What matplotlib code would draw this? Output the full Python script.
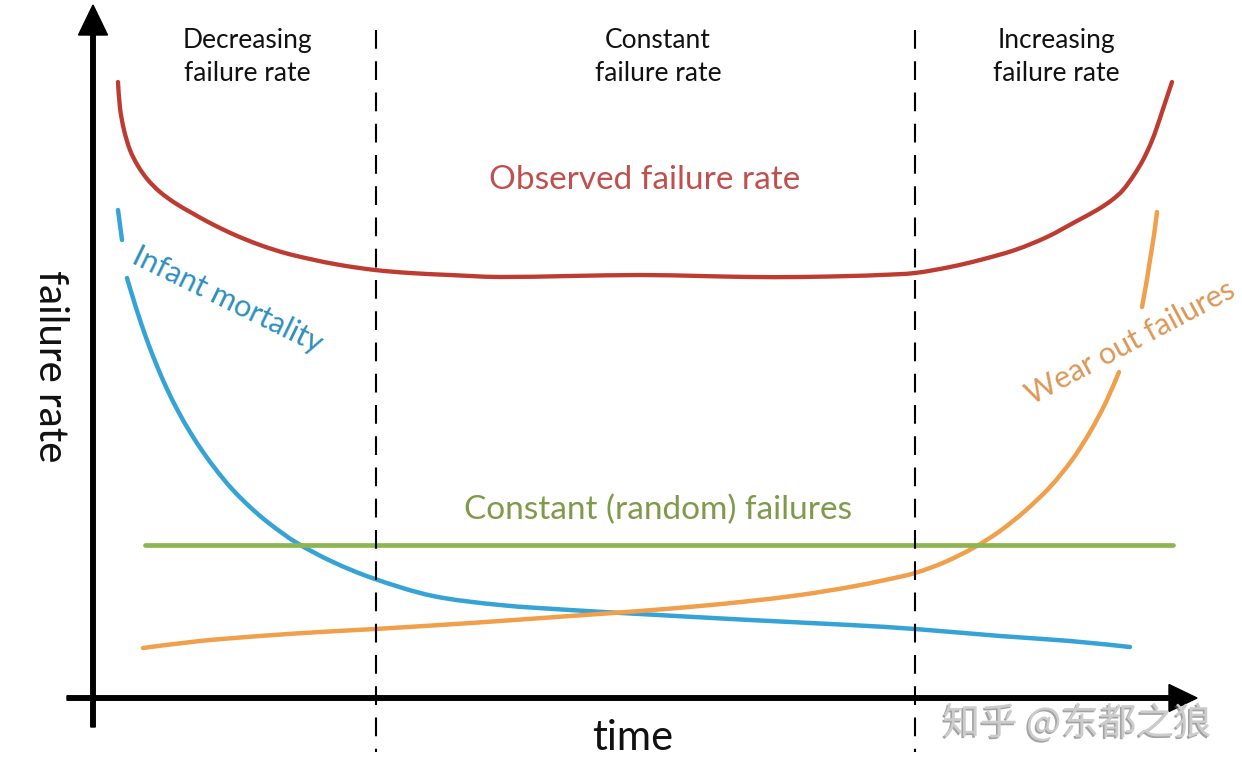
import numpy as np
import matplotlib
matplotlib.use("Agg")
import matplotlib.pyplot as plt
import matplotlib.patheffects as pe
from matplotlib.path import Path
from matplotlib.patches import PathPatch

plt.rcParams['font.family'] = ['Lato', 'DejaVu Sans']

# 数据 (从图上读出来的, 坐标单位 = 像素, y 向下)
red_t = [118, 120, 124, 130, 138, 148, 160, 175, 192, 212, 235, 260, 285, 310, 340, 375, 410, 450,
         500, 570, 640, 700, 750, 800, 850, 880, 915, 950, 980, 1015, 1047, 1075, 1097, 1112, 1123,
         1134, 1143, 1151, 1157, 1162, 1167, 1172]
red_r = [82, 108, 130, 150, 166, 180, 192, 203, 213, 224, 235, 245, 253, 259, 265, 270, 273, 275,
         277, 276, 275, 276, 277, 277, 276, 275, 273, 267, 260, 250, 237, 222, 210, 200, 190,
         175, 160, 143, 127, 112, 97, 82]

blue_top_t = [118, 120, 122]
blue_top_r = [210, 225, 240]
blue_t = [127, 133, 140, 148, 157, 167, 178, 190, 203, 217, 232, 250, 270, 297, 333, 375, 433, 500,
          570, 640, 750, 850, 915, 1000, 1070, 1130]
blue_r = [278, 298, 320, 343, 366, 389, 411, 432, 452, 471, 489, 507, 524, 543, 562, 579, 596, 605,
          610, 614, 620, 625, 629, 636, 641, 647]

orange_t = [143, 200, 260, 320, 375, 440, 500, 570, 640, 700, 750, 800, 850, 885, 915, 945, 975,
            1000, 1025, 1050, 1072, 1090, 1106, 1119]
orange_r = [648, 641, 636, 632, 629, 625, 621, 616, 611, 606, 601, 595, 587, 580, 573, 562, 547,
            531, 511, 487, 460, 432, 402, 372]
orange_top_t = [1142, 1146, 1150, 1154, 1157]
orange_top_r = [307, 285, 260, 235, 212]

green_t = [145, 1173]
green_r = [545, 545]

phase_bounds = [376, 915]
phase_labels = ["Decreasing\nfailure rate", "Constant\nfailure rate", "Increasing\nfailure rate"]
phase_x = [247, 658, 1056]


def smooth_path(xs, ys):
    # 通过各点的光滑曲线 (Catmull-Rom -> Bezier)
    pts = np.column_stack([xs, ys]).astype(float)
    verts = [pts[0]]
    codes = [Path.MOVETO]
    n = len(pts)
    for i in range(n - 1):
        p0 = pts[i - 1] if i > 0 else pts[i]
        p1 = pts[i]
        p2 = pts[i + 1]
        p3 = pts[i + 2] if i + 2 < n else pts[i + 1]
        verts += [p1 + (p2 - p0) / 6.0, p2 - (p3 - p1) / 6.0, p2]
        codes += [Path.CURVE4] * 3
    return Path(verts, codes)


def curve(ax, xs, ys, color, lw):
    ax.add_patch(PathPatch(smooth_path(xs, ys), facecolor='none', edgecolor=color, lw=lw,
                           capstyle='round', joinstyle='round'))


fig = plt.figure(figsize=(12.42, 7.74), dpi=100)
ax = fig.add_axes([0, 0, 1, 1])
ax.set_xlim(0, 1242)
ax.set_ylim(774, 0)
ax.axis('off')

curve(ax, red_t, red_r, '#bd3b30', 3.1)
curve(ax, blue_top_t, blue_top_r, '#35a3d6', 3.2)
curve(ax, blue_t, blue_r, '#35a3d6', 3.2)
curve(ax, orange_t, orange_r, '#f0a04b', 3.2)
curve(ax, orange_top_t, orange_top_r, '#f0a04b', 3.2)
ax.plot(green_t, green_r, color='#8db552', lw=3.4, solid_capstyle='round')

for xb in phase_bounds:
    ax.plot([xb, xb], [30, 752], color='black', lw=1.5, dashes=(9, 6))

# 坐标轴箭头
ax.arrow(93, 727, 0, -722, width=4.5, head_width=29, head_length=30,
         length_includes_head=True, color='black')
ax.arrow(67, 698, 1130, 0, width=4.5, head_width=27, head_length=28,
         length_includes_head=True, color='black')

for x, s in zip(phase_x, phase_labels):
    ax.text(x, 57, s, ha='center', va='center', fontsize=19, color='#111111', linespacing=1.38)

ax.text(645, 180, "Observed failure rate", ha='center', va='center', fontsize=24, color='#c0504d')
ax.text(658, 510, "Constant (random) failures", ha='center', va='center', fontsize=24,
        color='#7f9a4a')
ax.text(227, 300, "Infant mortality", ha='center', va='center', fontsize=22, color='#2f8fbf',
        rotation=-26, rotation_mode='anchor')
ax.text(1130, 342, "Wear out failures", ha='center', va='center', fontsize=22, color='#dc9858',
        rotation=28, rotation_mode='anchor')

ax.text(50, 366, "failure rate", ha='center', va='center', fontsize=29, rotation=-90,
        color='#111111')
ax.text(633, 738, "time", ha='center', va='center', fontsize=30, color='#111111')

ax.text(1077, 724, "知乎 @东都之狼", ha='center', va='center', fontsize=27,
        family=['Noto Sans CJK SC', 'DejaVu Sans'], color='#cccccc',
        path_effects=[pe.withSimplePatchShadow(offset=(-1.2, -1.2), shadow_rgbFace='#666666',
                                               alpha=0.6)])

fig.savefig('out.png', dpi=100, facecolor='white')
